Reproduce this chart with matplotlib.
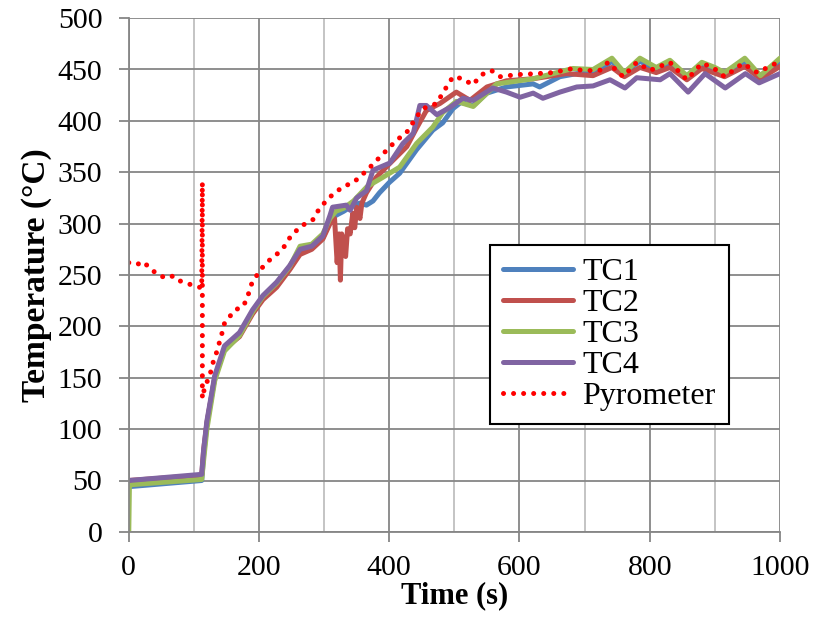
import numpy as np
import matplotlib.pyplot as plt
from matplotlib.ticker import MultipleLocator

plt.rcParams['font.family'] = ['Liberation Serif', 'DejaVu Serif']

# TC1 (blue)
t1 = [0, 112, 115, 120, 132, 147, 170, 190, 206, 227, 247, 263, 281, 298, 309, 318,
      330, 345, 355, 365, 375, 385, 400, 416, 442, 467, 482, 498, 510, 529, 550, 580,
      621, 631, 662, 688, 720, 742, 761, 785, 810, 831, 857, 880, 900, 915, 946, 970, 1000]
y1 = [44, 50, 75, 105, 150, 178, 192, 213, 228, 240, 256, 272, 276, 286, 302, 308,
      312, 318, 320, 318, 322, 330, 340, 349, 372, 391, 398, 412, 418, 415, 427, 433,
      436, 433, 443, 446, 448, 458, 447, 458, 450, 456, 443, 455, 450, 446, 458, 444, 458]

# TC2 (red)
t2 = [0, 112, 115, 120, 132, 147, 170, 190, 206, 227, 247, 263, 281, 298, 309, 316,
      320, 323, 325, 327, 330, 333, 336, 340, 344, 347, 350, 355, 358, 365, 380, 400,
      427, 442, 457, 478, 503, 524, 550, 580, 621, 672, 713, 742, 761, 785, 810, 831,
      857, 880, 915, 946, 970, 1000]
y2 = [50, 55, 80, 106, 150, 178, 190, 212, 226, 238, 255, 270, 275, 285, 300, 305,
      262, 290, 245, 290, 275, 268, 295, 290, 310, 296, 316, 305, 320, 330, 345, 358,
      375, 393, 410, 417, 428, 420, 433, 439, 441, 446, 444, 452, 443, 452, 447, 452,
      440, 451, 443, 453, 441, 453]

# TC3 (green)
t3 = [0, 1, 5, 112, 115, 120, 132, 147, 170, 190, 206, 227, 247, 263, 281, 298, 309,
      318, 330, 345, 366, 390, 416, 442, 467, 482, 503, 529, 565, 621, 682, 713, 742,
      761, 785, 810, 831, 857, 880, 900, 915, 946, 970, 1000]
y3 = [0, 45, 46, 51, 70, 100, 147, 176, 191, 214, 229, 242, 258, 278, 280, 290, 305,
      312, 315, 322, 336, 345, 355, 378, 394, 408, 419, 414, 436, 441, 451, 450, 461,
      447, 461, 452, 459, 444, 457, 452, 447, 461, 444, 461]

# TC4 (purple)
t4 = [0, 112, 115, 120, 132, 147, 170, 190, 206, 227, 247, 263, 281, 298, 309, 313,
      334, 340, 350, 365, 375, 401, 421, 437, 447, 457, 473, 493, 513, 529, 559, 580,
      601, 621, 636, 662, 688, 713, 739, 762, 780, 816, 831, 859, 885, 916, 947, 968, 1000]
y4 = [50, 56, 80, 108, 152, 181, 194, 216, 230, 243, 259, 275, 278, 288, 308, 316,
      318, 313, 325, 332, 352, 359, 378, 388, 415, 415, 406, 413, 422, 420, 432, 428,
      423, 427, 422, 428, 433, 434, 440, 432, 442, 440, 446, 428, 446, 432, 446, 437, 446]

# Pyrometer
tp = [0, 12, 22, 32, 45, 58, 68, 75, 89, 98, 109, 112, 113, 113, 117, 124, 129, 135,
      143, 147, 163, 175, 181, 189, 197, 206, 217, 227, 237, 247, 263, 283, 293, 309,
      329, 345, 366, 386, 411, 427, 442, 452, 473, 482, 498, 513, 528, 542, 557, 570,
      596, 627, 651, 682, 697, 723, 736, 759, 780, 800, 831, 857, 880, 897, 915, 943,
      965, 997]
yp = [262, 260, 263, 257, 250, 247, 249, 245, 242, 240, 238, 237, 340, 130, 142, 151,
      164, 175, 193, 203, 216, 219, 226, 242, 250, 258, 265, 270, 276, 286, 297, 304,
      315, 326, 336, 340, 352, 365, 381, 389, 404, 412, 417, 427, 443, 441, 435, 445,
      449, 443, 445, 446, 447, 451, 449, 449, 457, 443, 457, 449, 457, 440, 456, 452,
      443, 456, 447, 457]

fig = plt.figure(figsize=(8.15, 6.25), dpi=100)
ax = fig.add_axes([0.158, 0.149, 0.799, 0.822])

ax.plot(t1, y1, color='#4F81BD', lw=3.6, label='TC1', solid_capstyle='round')
ax.plot(t2, y2, color='#C0504D', lw=3.6, label='TC2', solid_capstyle='round')
ax.plot(t3, y3, color='#9BBB59', lw=3.6, label='TC3', solid_capstyle='round')
ax.plot(t4, y4, color='#8064A2', lw=3.6, label='TC4', solid_capstyle='round')
ax.plot(tp, yp, color='#FF0000', lw=3.6, linestyle=(0, (0.01, 2.0)),
        dash_capstyle='round', label='Pyrometer')

ax.set_xlim(0, 1000)
ax.set_ylim(0, 500)
ax.xaxis.set_major_locator(MultipleLocator(200))
ax.xaxis.set_minor_locator(MultipleLocator(100))
ax.yaxis.set_major_locator(MultipleLocator(50))

ax.grid(True, which='major', color='#868686', lw=1.3)
ax.grid(True, which='minor', axis='x', color='#BFBFBF', lw=1.3)
ax.set_axisbelow(True)

for s in ['top', 'right']:
    ax.spines[s].set_visible(False)
for s in ['left', 'bottom']:
    ax.spines[s].set_color('#868686')
    ax.spines[s].set_linewidth(1.3)

ax.tick_params(which='major', direction='out', length=7, width=1.3, color='#868686',
               labelsize=21.5)
ax.tick_params(which='minor', length=0)
ax.tick_params(axis='y', pad=12)
ax.tick_params(axis='x', pad=10)

ax.set_xlabel('Time (s)', fontsize=22, fontweight='bold', labelpad=0)
ax.set_ylabel('Temperature (°C)', fontsize=24, fontweight='bold', labelpad=4)

leg = ax.legend(loc='upper left', bbox_to_anchor=(0.5545, 0.558), fontsize=23,
                frameon=True, fancybox=False, handlelength=2.2, labelspacing=0.05,
                borderpad=0.4, borderaxespad=0, handletextpad=0.3)
leg.get_frame().set_edgecolor('black')
leg.get_frame().set_linewidth(1.5)
leg.get_frame().set_alpha(1)

fig.savefig('out.png', dpi=100)
